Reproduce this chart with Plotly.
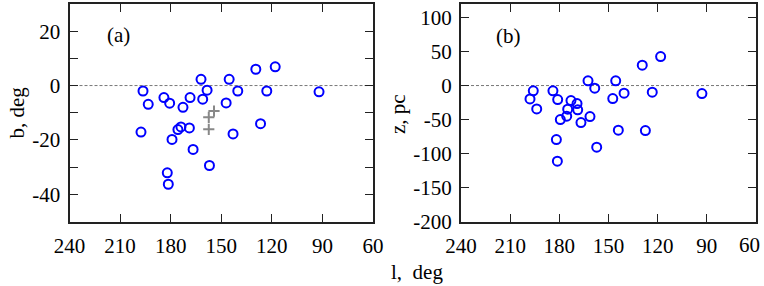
import plotly.graph_objects as go
from plotly.subplots import make_subplots

# Panel (a): galactic longitude l (deg) vs latitude b (deg)
l_a = [196.4, 193.3, 197.6, 184.0, 180.6, 172.7, 168.5, 162.0, 161.0, 158.4,
       157.0, 166.7, 168.9, 173.9, 175.7, 179.2, 182.0, 181.4, 147.1, 145.3,
       140.2, 143.0, 129.5, 118.0, 123.0, 126.7, 92.0]
b_a = [-2.0, -6.9, -17.1, -4.4, -6.5, -8.0, -4.4, 2.3, -5.0, -1.7,
       -29.4, -23.5, -15.6, -15.2, -16.2, -19.8, -32.1, -36.3, -6.4, 2.3,
       -2.0, -17.8, 6.0, 6.9, -2.0, -14.0, -2.3]
# Grey crosses in panel (a)
l_cross = [157.4, 154.3, 157.4]
b_cross = [-11.7, -9.4, -16.1]

# Panel (b): galactic longitude l (deg) vs height z (pc)
l_b = [197.9, 195.9, 193.8, 183.9, 181.0, 181.8, 181.2, 179.4, 175.5, 174.9,
       172.9, 169.2, 168.8, 166.8, 162.5, 158.4, 161.3, 157.2, 147.4, 145.6,
       140.5, 144.0, 129.4, 118.2, 123.3, 127.5, 93.0]
z_b = [-19.6, -7.8, -34.3, -7.8, -20.6, -79.4, -111.2, -50.0, -45.0, -34.7,
       -22.0, -26.5, -35.7, -54.4, 6.9, -3.8, -45.6, -90.6, -19.1, 6.9,
       -11.2, -65.6, 30.0, 42.6, -9.7, -66.2, -11.8]

x_ticks = [240, 210, 180, 150, 120, 90, 60]
x_ticktext = ["240", "210", "180", "150", "120", "90", "60"]
b_ticks = [-40, -30, -20, -10, 0, 10, 20]
b_ticktext = ["-40", "", "-20", "", "0", "", "20"]
z_ticks = [-200, -150, -100, -50, 0, 50, 100]
z_ticktext = ["-200", "-150", "-100", "-50", "0", "50", "100"]

FONT = "Liberation Serif, Times New Roman, serif"
W, H = 764, 286

fig = make_subplots(rows=1, cols=2)

circ = dict(symbol="circle-open", size=9, color="#0000ff", line=dict(width=2, color="#0000ff"))
fig.add_trace(go.Scatter(x=l_a, y=b_a, mode="markers", marker=circ, showlegend=False), 1, 1)
fig.add_trace(go.Scatter(x=l_cross, y=b_cross, mode="markers",
                         marker=dict(symbol="cross-thin-open", size=8, color="#888888",
                                     line=dict(width=2, color="#888888")),
                         showlegend=False), 1, 1)
fig.add_trace(go.Scatter(x=l_b, y=z_b, mode="markers", marker=circ, showlegend=False), 1, 2)

ydom = [1 - 221.5 / H, 1 - 4 / H]
tick_font = dict(family=FONT, size=21, color="black")
axis_common = dict(showgrid=False, zeroline=False, showline=True, linecolor="#222222",
                   linewidth=2, mirror="allticks", ticks="inside", ticklen=8, tickwidth=1.3,
                   tickcolor="#222222", automargin=False, ticklabeloverflow="allow",
                   tickfont=tick_font)

# right panel: last label ("60") drawn separately, nudged left so it stays inside the page
x_ticktext_b = x_ticktext[:-1] + [""]

fig.update_xaxes(**axis_common, range=[240, 60], tickmode="array", tickvals=x_ticks,
                 ticklabelstandoff=4)
fig.update_xaxes(domain=[69.5 / W, 373 / W], ticktext=x_ticktext, row=1, col=1)
fig.update_xaxes(domain=[461 / W, 756 / W], ticktext=x_ticktext_b, row=1, col=2)
fig.update_yaxes(**axis_common, domain=ydom, ticklabelstandoff=3)
fig.update_yaxes(range=[-50, 30], tickmode="array", tickvals=b_ticks, ticktext=b_ticktext, row=1, col=1)
fig.update_yaxes(range=[-200, 120], tickmode="array", tickvals=z_ticks, ticktext=z_ticktext, row=1, col=2)

fig.add_annotation(text=x_ticktext[-1], x=x_ticks[-1], xref="x2", y=1 - 245 / H, yref="paper",
                   xanchor="center", yanchor="middle", xshift=-7, showarrow=False, font=tick_font)

for xr in ["x", "x2"]:
    yr = "y" if xr == "x" else "y2"
    fig.add_shape(type="line", xref=f"{xr} domain", yref=yr, x0=0, x1=1, y0=0, y1=0,
                  line=dict(color="#777777", width=1, dash="3px,2px"), layer="below")

ann_font = dict(family=FONT, size=21, color="black")
def note(text, px, py, angle=0):
    fig.add_annotation(text=text, x=px / W, y=1 - py / H, xref="paper", yref="paper",
                       xanchor="center", yanchor="middle", showarrow=False,
                       textangle=angle, font=ann_font)

note("(a)", 118, 35)
note("(b)", 508, 36)
note("b, deg", 16, 112.5, -90)
note("z, pc", 398, 114, -90)
note("l,  deg", 417, 272)

fig.update_layout(template="none", width=W, height=H, margin=dict(l=0, r=0, t=0, b=0),
                  paper_bgcolor="white", plot_bgcolor="white")

fig.write_html("out.html", config={"displayModeBar": False},
               post_script="document.body.style.margin='0';document.body.style.padding='0';")
